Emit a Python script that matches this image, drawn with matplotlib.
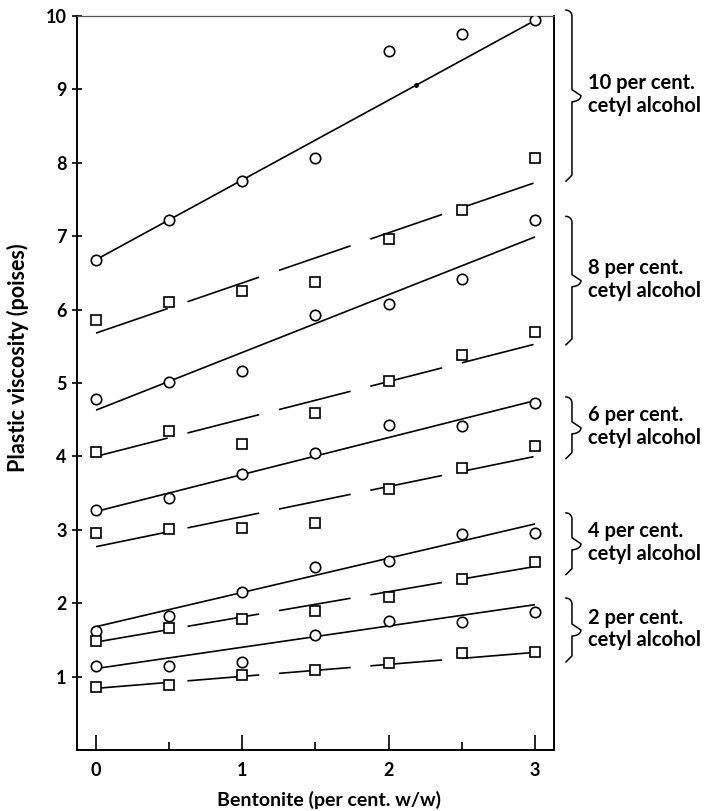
import matplotlib
matplotlib.use("Agg")
import matplotlib.pyplot as plt
import numpy as np

plt.rcParams['font.family'] = ['Lato', 'DejaVu Sans']

# ---- data ----
bentonite = [0, 0.5, 1, 1.5, 2, 2.5, 3]

circ_10 = [6.68, 7.22, 7.75, 8.07, 9.52, 9.76, 9.94]
sq_10 = [5.86, 6.10, 6.26, 6.38, 6.96, 7.36, 8.07]
circ_8 = [4.78, 5.02, 5.17, 5.92, 6.07, 6.42, 7.22]
sq_8 = [4.06, 4.35, 4.17, 4.59, 5.03, 5.38, 5.69]
circ_6 = [3.27, 3.44, 3.76, 4.05, 4.43, 4.42, 4.73]
sq_6 = [2.96, 3.01, 3.03, 3.09, 3.55, 3.84, 4.14]
circ_4 = [1.62, 1.83, 2.15, 2.49, 2.57, 2.94, 2.95]
sq_4 = [1.49, 1.66, 1.79, 1.90, 2.09, 2.33, 2.56]
circ_2 = [1.15, 1.15, 1.20, 1.57, 1.76, 1.74, 1.88]
sq_2 = [0.855, 0.89, 1.02, 1.09, 1.18, 1.32, 1.34]

# fitted lines: value at bentonite 0 and 3
fit_x = [0, 3]
fit_circ_10 = [6.68, 9.94]
fit_sq_10 = [5.68, 7.73]
fit_circ_8 = [4.63, 6.99]
fit_sq_8 = [4.00, 5.53]
fit_circ_6 = [3.25, 4.76]
fit_sq_6 = [2.77, 4.00]
fit_circ_4 = [1.68, 3.08]
fit_sq_4 = [1.47, 2.50]
fit_circ_2 = [1.11, 1.98]
fit_sq_2 = [0.84, 1.33]

# stray dot on top line
stray_x = [2.185]
stray_y = [9.06]

group_labels = ["10 per cent.\ncetyl alcohol", "8 per cent.\ncetyl alcohol",
                "6 per cent.\ncetyl alcohol", "4 per cent.\ncetyl alcohol",
                "2 per cent.\ncetyl alcohol"]
bracket_top = [10.08, 7.27, 4.81, 3.23, 2.07]
bracket_bot = [7.75, 5.52, 3.97, 2.39, 1.20]

x_ticks = [0, 1, 2, 3]
x_minor = [0.5, 1.5, 2.5]
y_ticks = [1, 2, 3, 4, 5, 6, 7, 8, 9, 10]

# ---- figure ----
W, H = 709, 811
fig = plt.figure(figsize=(W / 100, H / 100), dpi=100)
ax = fig.add_axes([77 / W, 1 - 750 / H, (554 - 77) / W, (750 - 16) / H])
ax.set_xlim(-0.13, 3.13)
ax.set_ylim(0, 10)

lw = 1.2
mkw = dict(markersize=7.5, markerfacecolor='white', markeredgecolor='black',
           markeredgewidth=1.2, linestyle='none', zorder=4)

def solid_line(yy):
    ax.plot(fit_x, yy, color='black', lw=lw, zorder=2, solid_capstyle='butt')

def dashed_line(yy):
    slope = (yy[1] - yy[0]) / (fit_x[1] - fit_x[0])
    period, dash = 0.625, 0.49
    k = 0
    while k * period < fit_x[1] - 1e-9:
        xa = fit_x[0] + k * period
        xb = min(xa + dash, fit_x[1])
        ax.plot([xa, xb], [yy[0] + slope * (xa - fit_x[0]), yy[0] + slope * (xb - fit_x[0])],
                color='black', lw=lw, zorder=2, solid_capstyle='butt')
        k += 1

for c, s, fc, fs in [(circ_10, sq_10, fit_circ_10, fit_sq_10),
                     (circ_8, sq_8, fit_circ_8, fit_sq_8),
                     (circ_6, sq_6, fit_circ_6, fit_sq_6),
                     (circ_4, sq_4, fit_circ_4, fit_sq_4),
                     (circ_2, sq_2, fit_circ_2, fit_sq_2)]:
    solid_line(fc)
    dashed_line(fs)
    ax.plot(bentonite, c, marker='o', **mkw)
    ax.plot(bentonite, s, marker='s', **mkw)

ax.plot(stray_x, stray_y, 'o', color='black', markersize=2.5, zorder=5)

# ---- axes styling ----
for side in ['left', 'bottom', 'right']:
    ax.spines[side].set_linewidth(1.4)
ax.spines['top'].set_linewidth(0.9)
ax.spines['top'].set_color('#555555')

ax.set_xticks(x_ticks)
ax.set_xticks(x_minor, minor=True)
ax.set_yticks(y_ticks)
ax.set_xticklabels([str(v) for v in x_ticks], fontsize=13, fontweight='bold')
ax.set_yticklabels([str(v) for v in y_ticks], fontsize=13, fontweight='bold')
ax.tick_params(axis='x', which='major', direction='in', length=11, width=1.2, pad=9)
ax.tick_params(axis='x', which='minor', direction='in', length=6, width=1.2)
ax.tick_params(axis='y', which='major', direction='inout', length=7, width=1.2, pad=4)

ax.set_xlabel("Bentonite (per cent. w/w)", fontsize=14, fontweight='bold')
ax.xaxis.set_label_coords((329 - 77) / 477, (750 - 800) / 734)
ax.xaxis.label.set_va('center')
ax.set_ylabel("Plastic viscosity (poises)", fontsize=15.5, fontweight='bold')
ax.yaxis.set_label_coords((18 - 77) / 477, (750 - 358) / 734)
ax.yaxis.label.set_va('center')

# ---- braces ----
px_x = 3.26 / 477.0   # data units per pixel (x)
px_y = 10.0 / 734.0   # data units per pixel (y)
xb = 3.0 + (572 - 535) * px_x
for top, bot, label in zip(bracket_top, bracket_bot, group_labels):
    mid = 0.5 * (top + bot)
    wl, wr, r = 6 * px_x, 9 * px_x, 6 * px_y
    t = np.linspace(0, 1, 20)
    q = t * np.pi / 2
    xs, ys = [], []
    xs += list(xb - wl * (1 - np.sin(q)))
    ys += list(top - r * (1 - np.cos(q)))
    xs += [xb]
    ys += [mid + r]
    xs += list(xb + wr * np.sin(q))
    ys += list(mid + r * (1 - np.sin(q)))
    xs += list(xb + wr * np.cos(q))
    ys += list(mid - r * np.sin(q))
    xs += [xb]
    ys += [bot + r]
    xs += list(xb - wl * (1 - np.cos(q)))
    ys += list(bot + r * np.cos(q))
    ax.plot(xs, ys, color='black', lw=1.1, clip_on=False, zorder=3)
    ax.text(3.0 + (588 - 535) * px_x, mid + 1 * px_y, label, fontsize=14.5, fontweight='bold',
            ha='left', va='center', linespacing=1.18, clip_on=False)

fig.savefig("out.png", dpi=100)
